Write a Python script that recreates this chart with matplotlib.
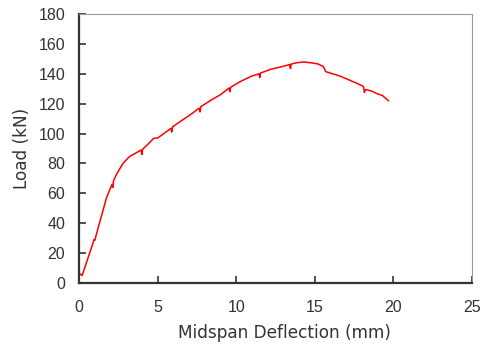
import matplotlib
matplotlib.use("Agg")
import matplotlib.pyplot as plt

# load-deflection curve
deflection = [0.0, 0.02, 0.2, 0.9, 0.95, 1.0, 1.75, 2.1, 2.15, 2.2, 2.4, 2.8, 3.2, 3.7,
              3.95, 4.0, 4.05, 4.4, 4.75, 5.0, 5.4, 5.85, 5.9, 5.95, 6.5, 7.0,
              7.65, 7.7, 7.75, 8.5, 9.0, 9.55, 9.6, 9.65, 10.3, 11.0, 11.45, 11.5,
              11.55, 12.2, 13.0, 13.4, 13.45, 13.5, 13.8, 14.3, 14.8, 15.2, 15.55,
              15.7, 16.6, 17.6, 18.1, 18.15, 18.25, 18.6, 19.0, 19.3, 19.68]
load = [0.0, 6.5, 5.0, 27.0, 29.0, 28.5, 57.0, 66.0, 64.0, 68.5, 73.0, 80.0, 84.5, 87.5,
        89.0, 86.0, 89.5, 93.0, 96.8, 97.0, 100.0, 103.5, 101.0, 104.5, 108.5, 112.0,
        117.0, 114.5, 118.0, 123.0, 126.0, 130.5, 128.0, 131.0, 135.0, 138.5, 140.0, 137.5,
        140.5, 143.0, 145.0, 146.2, 143.5, 146.5, 147.3, 147.9, 147.3, 146.6, 144.8,
        141.4, 138.5, 134.0, 131.5, 127.5, 129.5, 128.5, 126.5, 125.5, 122.0]

x_ticks = [0, 5, 10, 15, 20, 25]
y_ticks = [0, 20, 40, 60, 80, 100, 120, 140, 160, 180]

plt.rcParams["font.family"] = ["Liberation Sans", "DejaVu Sans"]
text_color = "#333333"

fig = plt.figure(figsize=(4.84, 3.45), dpi=100)
ax = fig.add_axes([0.1632, 0.1797, 0.812, 0.7797])

ax.plot(deflection, load, color="red", linewidth=1.1)

ax.set_xlim(0, 25)
ax.set_ylim(0, 180)
ax.set_xticks(x_ticks)
ax.set_yticks(y_ticks)

ax.tick_params(direction="in", length=5, width=1.2, color=text_color,
               labelsize=11.5, labelcolor=text_color)
ax.tick_params(axis="y", pad=10)
ax.tick_params(axis="x", pad=12)

for side in ["left", "bottom"]:
    ax.spines[side].set_linewidth(1.6)
    ax.spines[side].set_color(text_color)
for side in ["top", "right"]:
    ax.spines[side].set_linewidth(0.8)
    ax.spines[side].set_color("#999999")

label_font = dict(fontsize=12.2, color=text_color, family="DejaVu Sans")
ax.set_xlabel("Midspan Deflection (mm)", labelpad=7, **label_font)
ax.set_ylabel("Load (kN)", labelpad=5, **label_font)
# label in the reference sits a little right of the axes centre
ax.xaxis.label.set_x(0.524)

plt.savefig("out.png", dpi=100)
